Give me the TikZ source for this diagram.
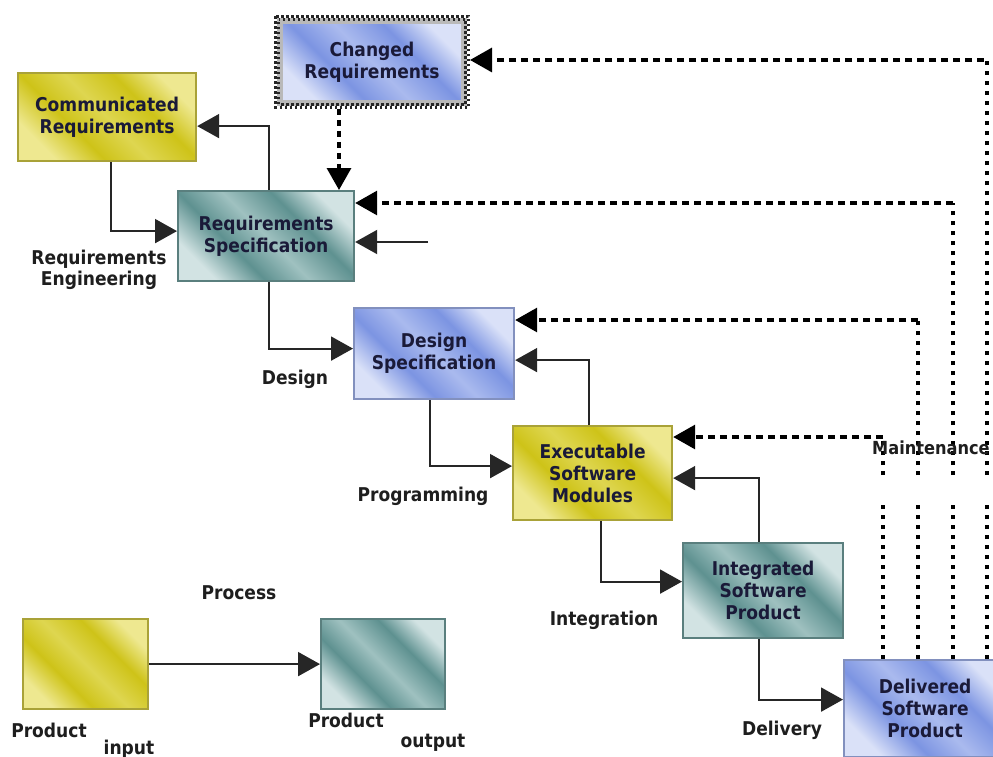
\documentclass[tikz,border=0pt]{standalone}
\usepackage{fontspec}
\setmainfont{DejaVu Sans}[FakeStretch=0.9]
\usetikzlibrary{arrows.meta}
\definecolor{ylight}{HTML}{EEE890}
\definecolor{ydark}{HTML}{CEC318}
\definecolor{ymid}{HTML}{DED650}
\definecolor{yedge}{HTML}{A9A238}
\definecolor{tlight}{HTML}{D2E3E3}
\definecolor{tdark}{HTML}{5E9190}
\definecolor{tmid}{HTML}{9FC1C0}
\definecolor{tedge}{HTML}{5A7F7E}
\definecolor{blight}{HTML}{DAE1F8}
\definecolor{bdark}{HTML}{7C94E2}
\definecolor{bmid}{HTML}{AABAEE}
\definecolor{bedge}{HTML}{8290BE}
\definecolor{navy}{HTML}{1A1A38}
\definecolor{lab}{HTML}{1E1E1E}
\pgfdeclarehorizontalshading{yshade}{100bp}{color(0bp)=(ylight); color(25bp)=(ylight); color(38bp)=(ydark); color(50bp)=(ymid); color(63bp)=(ydark); color(75bp)=(ylight); color(100bp)=(ylight)}
\pgfdeclarehorizontalshading{tshade}{100bp}{color(0bp)=(tlight); color(25bp)=(tlight); color(38bp)=(tdark); color(50bp)=(tmid); color(63bp)=(tdark); color(75bp)=(tlight); color(100bp)=(tlight)}
\pgfdeclarehorizontalshading{bshade}{100bp}{color(0bp)=(blight); color(25bp)=(blight); color(38bp)=(bdark); color(50bp)=(bmid); color(63bp)=(bdark); color(75bp)=(blight); color(100bp)=(blight)}
\tikzset{
  box/.style={anchor=north west, inner sep=0pt, align=center, text=navy,
    font=\fontsize{19}{22}\selectfont\bfseries, line width=2.2pt, shading angle=45},
  ybox/.style={box, shading=yshade, draw=yedge},
  tbox/.style={box, shading=tshade, draw=tedge},
  bbox/.style={box, shading=bshade, draw=bedge},
  lbl/.style={inner sep=0pt, align=center, text=lab, font=\fontsize{19}{21}\selectfont\bfseries},
  tip/.style={-{Triangle[length=22pt,width=24pt]}},
  conn/.style={draw=black!85, line width=2pt, tip},
  dashh/.style={draw=black, line width=3.2pt, dash pattern=on 7pt off 5pt, tip},
  dashv/.style={draw=black, line width=3.2pt, dash pattern=on 4pt off 6pt},
  dashva/.style={draw=black, line width=3.2pt, dash pattern=on 6pt off 5pt, tip},
  chk/.style={draw=black!85, line width=2.2pt, dash pattern=on 2.5pt off 2.5pt}
}
\begin{document}
\begin{tikzpicture}[x=1pt,y=-1pt]
\useasboundingbox[fill=white] (0,0) rectangle (993,757);
% boxes
\node[ybox, minimum width=178pt, minimum height=88pt] (comm) at (17,72) {Communicated\\Requirements};
\node[bbox, draw=gray!55, line width=6pt, minimum width=184pt, minimum height=82pt] (chg) at (277,18) {Changed\\Requirements};
\draw[chk] ([shift={(-1.5pt,1.5pt)}]chg.north west) rectangle ([shift={(1.5pt,-1.5pt)}]chg.south east);
\draw[chk, dash phase=2.5pt] ([shift={(1.5pt,-1.5pt)}]chg.north west) rectangle ([shift={(-1.5pt,1.5pt)}]chg.south east);
\node[tbox, minimum width=176pt, minimum height=90pt] (rs) at (177,190) {Requirements\\Specification};
\node[bbox, minimum width=160pt, minimum height=91pt] (des) at (353,307) {Design\\Specification};
\node[ybox, minimum width=159pt, minimum height=94pt] (exe) at (512,425) {Executable\\Software\\Modules};
\node[tbox, minimum width=160pt, minimum height=95pt] (int) at (682,542) {Integrated\\Software\\Product};
\node[bbox, minimum width=162pt, minimum height=97pt] (del) at (843,659) {Delivered\\Software\\Product};
\node[ybox, minimum width=125pt, minimum height=90pt] (pin) at (22,618) {};
\node[tbox, minimum width=124pt, minimum height=90pt] (pout) at (320,618) {};
% labels
\node[lbl] (lre) at (99,270) {Requirements\\Engineering};
\node[lbl] (ldes) at (295,379) {Design};
\node[lbl] (lprog) at (423,496) {Programming};
\node[lbl] (lint) at (604,620) {Integration};
\node[lbl] (ldel) at (782,730) {Delivery};
\node[lbl] (lproc) at (239,593) {Process};
\node[lbl] (lp1) at (49,730) {Product};
\node[lbl] (lin) at (129,749) {input};
\node[lbl] (lp2) at (346,720) {Product};
\node[lbl] (lout) at (433,743) {output};
% solid connectors
\draw[conn] ([xshift=3pt]rs.north) |- ([yshift=-9pt]comm.east);
\draw[conn] ([xshift=4pt]comm.south) |- ([yshift=5pt]rs.west);
\coordinate (rsin) at (428,242);
\draw[conn] (rsin) -- (rsin -| rs.east);
\draw[conn] ([xshift=3pt]rs.south) |- ([yshift=5pt]des.west);
\draw[conn] ([xshift=-4pt]des.south) |- ([yshift=7pt]exe.west);
\draw[conn] ([xshift=-4pt]exe.north) |- ([yshift=-6.5pt]des.east);
\draw[conn] ([xshift=8pt]exe.south) |- ([yshift=9pt]int.west);
\draw[conn] ([xshift=-4pt]int.north) |- ([yshift=-5pt]exe.east);
\draw[conn] ([xshift=-4pt]int.south) |- ([yshift=9pt]del.west);
\draw[conn] (pin.east) -- (pout.west);
% dotted from changed requirements
\draw[dashva] ([xshift=-33pt,yshift=-3pt]chg.south) -- ([xshift=-33pt]chg.south |- rs.north);
% maintenance feedback
\coordinate (c1) at (883,437);
\coordinate (c2) at (918,320);
\coordinate (c3) at (953,203);
\coordinate (c4) at (987,60);
\draw[dashh] (c1) -- (c1 -| exe.east);
\draw[dashh] (c2) -- (c2 -| des.east);
\draw[dashh] (c3) -- (c3 -| rs.east);
\draw[dashh] ([xshift=-3pt]c4) -- ([xshift=3pt]c4 -| chg.east);
\foreach \c in {c1,c2,c3,c4}{
  \draw[dashv] (\c |- del.north) -- (\c |- 0,505);
  \draw[dashv] (\c |- 0,475) -- (\c);
}
\node[lbl, anchor=west, font=\fontsize{18}{21}\selectfont\bfseries] (lmain) at (872,448) {Maintenance};
\end{tikzpicture}
\end{document}
